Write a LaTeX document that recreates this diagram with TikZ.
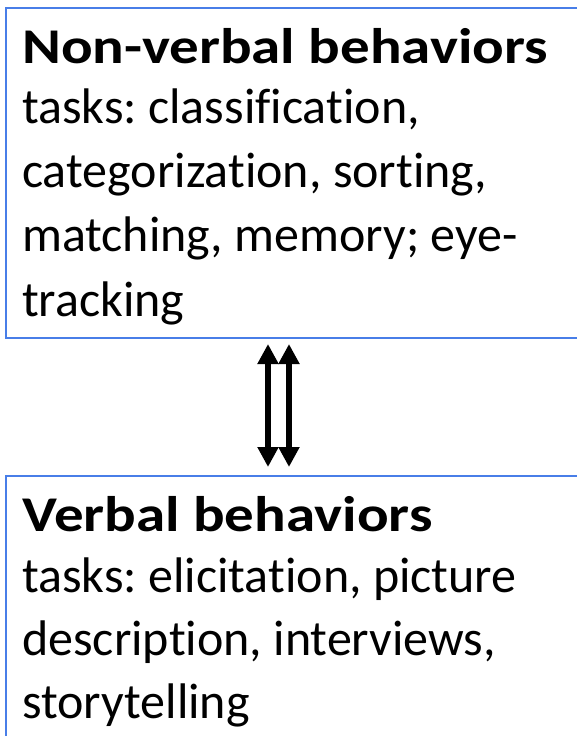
\documentclass[tikz,border=0pt]{standalone}
\usepackage{fontspec}
\setmainfont[Ligatures={NoCommon}]{Carlito}
\usetikzlibrary{arrows.meta}
\definecolor{boxblue}{RGB}{72,126,232}
\frenchspacing
\newcommand{\headwide}[1]{\scalebox{1.18}[1]{\bfseries #1}}
\begin{document}
\begin{tikzpicture}[x=1pt,y=-1pt,
  panel/.style={draw=boxblue,line width=2.5pt,inner sep=0pt,outer sep=0pt,anchor=north west},
  headtext/.style={anchor=base west,inner sep=0pt,font=\fontsize{50}{60}\selectfont},
  bodytext/.style={anchor=base west,inner sep=0pt,font=\fontsize{50}{60}\selectfont},
  link/.style={line width=5.5pt,{Triangle[width=20pt,length=20pt]}-{Triangle[width=20pt,length=20pt]}}]
\useasboundingbox (0,0) rectangle (577,736);
\clip (0,0) rectangle (577,736);
\node[panel,minimum width=620pt,minimum height=330pt] (top) at (6,8) {};
\node[panel,minimum width=620pt,minimum height=300pt] (bot) at (6,476) {};
\node[headtext] (t1) at (22,63) {\headwide{Non-verbal behaviors}};
\node[bodytext] (t2) at (22,123) {tasks: classification,};
\node[bodytext] (t3) at (22,187) {categorization, sorting,};
\node[bodytext] (t4) at (22,251) {matching, memory; eye-};
\node[bodytext] (t5) at (22,316) {tracking};
\node[headtext] (b1) at (22,531) {\headwide{Verbal behaviors}};
\node[bodytext] (b2) at (22,592) {tasks: elicitation, picture};
\node[bodytext] (b3) at (22,655) {description, interviews,};
\node[bodytext] (b4) at (22,718) {storytelling};
\draw[link] ([shift={(262,6)}]top.south west) -- ([shift={(262,-9)}]bot.north west);
\draw[link] ([shift={(283,6)}]top.south west) -- ([shift={(283,-9)}]bot.north west);
\end{tikzpicture}
\end{document}
